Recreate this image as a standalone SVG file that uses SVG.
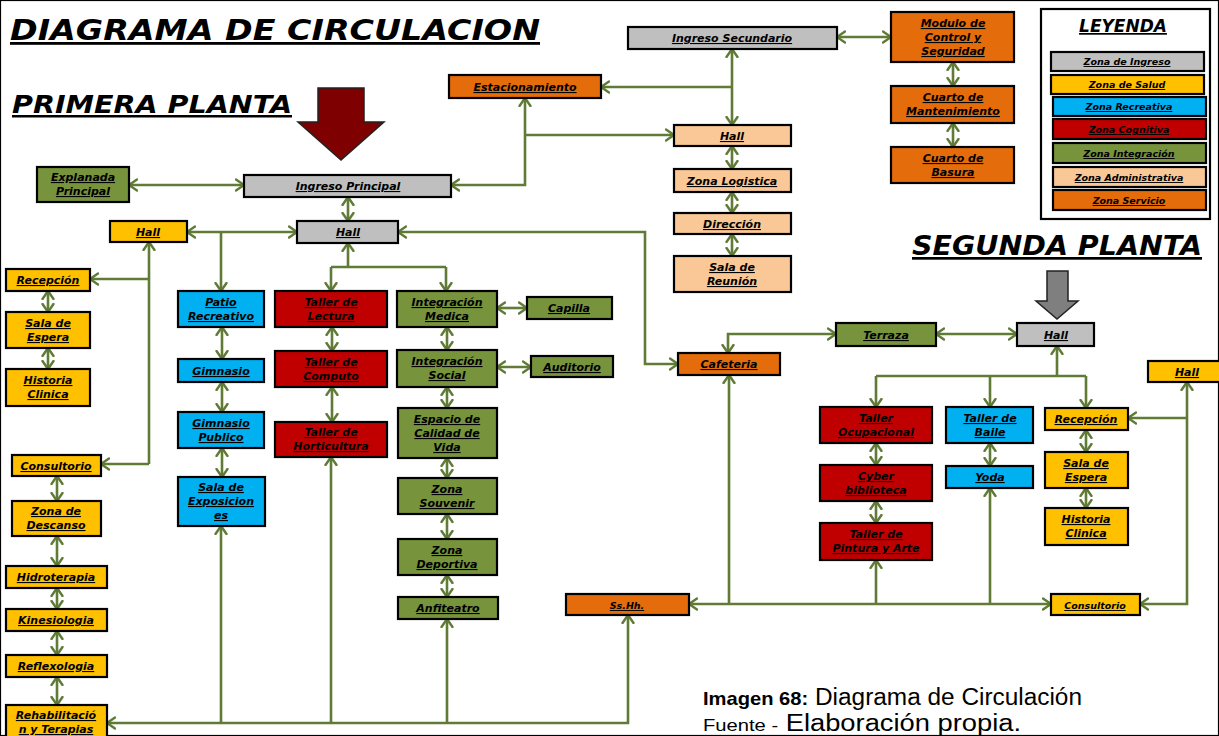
<svg xmlns="http://www.w3.org/2000/svg" width="1219" height="736" viewBox="0 0 1219 736">
<defs>
<marker id="ah" viewBox="0 0 10 14" refX="9" refY="7" markerWidth="10" markerHeight="14" markerUnits="userSpaceOnUse" orient="auto-start-reverse">
<path d="M1,1.5 L9,7 L1,12.5" fill="none" stroke="#5F7B36" stroke-width="2.4" stroke-linecap="round" stroke-linejoin="round"/>
</marker>
</defs>
<style>
.t{font-family:"DejaVu Sans","Liberation Sans",sans-serif;font-weight:bold;font-style:italic;font-size:11px;text-anchor:middle;text-decoration:underline;fill:#000}
.s{font-size:9.5px}
.h{font-family:"DejaVu Sans","Liberation Sans",sans-serif;font-weight:bold;font-style:italic;text-decoration:underline;fill:#000}
.cap{font-family:"Liberation Sans",Arial,sans-serif;fill:#000}
rect{stroke:#000;stroke-width:2.2}
.gy{fill:#BFBFBF}.ye{fill:#FFC000}.bl{fill:#00B0F0}.rd{fill:#C00000}.gr{fill:#77933C}.pe{fill:#FAC896}.or{fill:#E46C0A}
.c{fill:none;stroke:#5F7B36;stroke-width:2.6}
.e{marker-end:url(#ah)}.b{marker-start:url(#ah);marker-end:url(#ah)}
</style>
<rect width="1219" height="736" fill="#fff" stroke="none"/>

<text class="h" x="10" y="40" font-size="28" textLength="530" lengthAdjust="spacingAndGlyphs">DIAGRAMA DE CIRCULACION</text>
<text class="h" x="12" y="113" font-size="25" textLength="280" lengthAdjust="spacingAndGlyphs">PRIMERA PLANTA</text>
<text class="h" x="912" y="255" font-size="27" textLength="290" lengthAdjust="spacingAndGlyphs">SEGUNDA PLANTA</text>
<polygon points="318,88 364,88 364,122 384,122 341,160 298,122 318,122" fill="#7F0000" stroke="#222" stroke-width="1.5"/>
<polygon points="1047,271 1068,271 1068,301 1078,301 1057,319 1036,301 1047,301" fill="#7F7F7F" stroke="#222" stroke-width="1.5"/>

<g id="connectors">
<path class="c b" d="M129,185 H244"/>
<path class="c b" d="M348,197 V221"/>
<path class="c b" d="M187,232 H297"/>
<path class="c e" d="M221,232 V291"/>
<path class="c e" d="M149,464 V242"/>
<path class="c e" d="M149,464 H101"/>
<path class="c e" d="M149,279 H90"/>
<path class="c b" d="M48,291 V312"/>
<path class="c b" d="M48,348 V369"/>
<path class="c b" d="M57,476 V501"/>
<path class="c b" d="M57,536 V566"/>
<path class="c b" d="M57,588 V609"/>
<path class="c b" d="M57,631 V655"/>
<path class="c b" d="M57,677 V705"/>
<path class="c e" d="M348,267 V243"/>
<path class="c" d="M331,267 H446"/>
<path class="c e" d="M331,267 V291"/>
<path class="c e" d="M446,267 V291"/>
<path class="c b" d="M222,327 V359"/>
<path class="c b" d="M222,382 V412"/>
<path class="c b" d="M222,448 V477"/>
<path class="c b" d="M332,327 V351"/>
<path class="c b" d="M332,387 V422"/>
<path class="c b" d="M447,327 V350"/>
<path class="c b" d="M447,387 V408"/>
<path class="c b" d="M447,458 V478"/>
<path class="c b" d="M447,514 V539"/>
<path class="c b" d="M447,575 V597"/>
<path class="c b" d="M497,308 H527"/>
<path class="c b" d="M497,367 H531"/>
<path class="c b" d="M107,723 H628 V615"/>
<path class="c e" d="M221,723 V526"/>
<path class="c e" d="M331,723 V457"/>
<path class="c e" d="M447,723 V619"/>
<path class="c b" d="M398,232 H645 V364 H678"/>
<path class="c b" d="M451,185 H525 V98"/>
<path class="c e" d="M525,135 H674"/>
<path class="c b" d="M732,49 V125"/>
<path class="c e" d="M732,87 H601"/>
<path class="c b" d="M837,37 H891"/>
<path class="c b" d="M953,62 V86"/>
<path class="c b" d="M953,123 V147"/>
<path class="c b" d="M732,146 V169"/>
<path class="c b" d="M732,192 V213"/>
<path class="c b" d="M732,234 V256"/>
<path class="c b" d="M728,353 V334 H836"/>
<path class="c b" d="M936,334 H1017"/>
<path class="c e" d="M1057,376 V346"/>
<path class="c" d="M876,376 H1086"/>
<path class="c e" d="M876,376 V407"/>
<path class="c e" d="M990,376 V407"/>
<path class="c e" d="M1086,376 V408"/>
<path class="c b" d="M876,443 V465"/>
<path class="c b" d="M876,501 V523"/>
<path class="c b" d="M990,443 V466"/>
<path class="c b" d="M1086,430 V452"/>
<path class="c b" d="M1086,488 V508"/>
<path class="c b" d="M689,604 H1051"/>
<path class="c e" d="M729,604 V375"/>
<path class="c e" d="M876,604 V560"/>
<path class="c e" d="M990,604 V488"/>
<path class="c b" d="M1187,382 V604 H1140"/>
<path class="c e" d="M1187,418 H1128"/>
</g>

<g id="ingreso-secundario"><rect class="gy" x="628" y="27" width="209" height="22"/><text class="t" x="732" y="42">Ingreso Secundario</text></g>
<g id="estacionamiento"><rect class="or" x="449" y="75" width="152" height="23"/><text class="t" x="525" y="91">Estacionamiento</text></g>
<g id="modulo-control"><rect class="or" x="891" y="12" width="123" height="50"/><text class="t" x="953" y="27">Modulo de</text><text class="t" x="953" y="41">Control y</text><text class="t" x="953" y="55">Seguridad</text></g>
<g id="cuarto-mantenimiento"><rect class="or" x="891" y="86" width="123" height="37"/><text class="t" x="953" y="101">Cuarto de</text><text class="t" x="953" y="115">Mantenimiento</text></g>
<g id="cuarto-basura"><rect class="or" x="891" y="147" width="123" height="36"/><text class="t" x="953" y="162">Cuarto de</text><text class="t" x="953" y="176">Basura</text></g>
<g id="hall-admin"><rect class="pe" x="674" y="125" width="117" height="21"/><text class="t" x="732" y="140">Hall</text></g>
<g id="zona-logistica"><rect class="pe" x="674" y="169" width="117" height="23"/><text class="t" x="732" y="185">Zona Logistica</text></g>
<g id="direccion"><rect class="pe" x="674" y="213" width="117" height="21"/><text class="t" x="732" y="228">Dirección</text></g>
<g id="sala-reunion"><rect class="pe" x="674" y="256" width="117" height="36"/><text class="t" x="732" y="271">Sala de</text><text class="t" x="732" y="285">Reunión</text></g>

<g id="explanada"><rect class="gr" x="37" y="167" width="92" height="35"/><text class="t" x="83" y="181">Explanada</text><text class="t" x="83" y="195">Principal</text></g>
<g id="ingreso-principal"><rect class="gy" x="244" y="175" width="207" height="22"/><text class="t" x="348" y="190">Ingreso Principal</text></g>
<g id="hall-principal"><rect class="gy" x="297" y="221" width="101" height="22"/><text class="t" x="348" y="236">Hall</text></g>
<g id="hall-salud"><rect class="ye" x="110" y="221" width="77" height="21"/><text class="t" x="148" y="236">Hall</text></g>
<g id="recepcion"><rect class="ye" x="6" y="269" width="84" height="22"/><text class="t" x="48" y="284">Recepción</text></g>
<g id="sala-espera"><rect class="ye" x="6" y="312" width="84" height="36"/><text class="t" x="48" y="327">Sala de</text><text class="t" x="48" y="341">Espera</text></g>
<g id="historia-clinica"><rect class="ye" x="6" y="369" width="84" height="37"/><text class="t" x="48" y="384">Historia</text><text class="t" x="48" y="398">Clinica</text></g>
<g id="consultorio"><rect class="ye" x="12" y="455" width="89" height="21"/><text class="t" x="56" y="470">Consultorio</text></g>
<g id="zona-descanso"><rect class="ye" x="12" y="501" width="89" height="35"/><text class="t" x="56" y="515">Zona de</text><text class="t" x="56" y="529">Descanso</text></g>
<g id="hidroterapia"><rect class="ye" x="6" y="566" width="101" height="22"/><text class="t" x="56" y="581">Hidroterapia</text></g>
<g id="kinesiologia"><rect class="ye" x="6" y="609" width="101" height="22"/><text class="t" x="56" y="624">Kinesiologia</text></g>
<g id="reflexologia"><rect class="ye" x="6" y="655" width="101" height="22"/><text class="t" x="56" y="670">Reflexologia</text></g>
<g id="rehabilitacion"><rect class="ye" x="6" y="705" width="101" height="38"/><text class="t" x="56" y="719">Rehabilitació</text><text class="t" x="56" y="733">n y Terapias</text></g>
<g id="patio-recreativo"><rect class="bl" x="178" y="291" width="86" height="36"/><text class="t" x="221" y="306">Patio</text><text class="t" x="221" y="320">Recreativo</text></g>
<g id="gimnasio"><rect class="bl" x="178" y="359" width="86" height="23"/><text class="t" x="221" y="375">Gimnasio</text></g>
<g id="gimnasio-publico"><rect class="bl" x="178" y="412" width="86" height="36"/><text class="t" x="221" y="427">Gimnasio</text><text class="t" x="221" y="441">Publico</text></g>
<g id="sala-exposiciones"><rect class="bl" x="178" y="477" width="87" height="49"/><text class="t" x="221" y="491">Sala de</text><text class="t" x="221" y="505">Exposicion</text><text class="t" x="221" y="519">es</text></g>
<g id="taller-lectura"><rect class="rd" x="275" y="291" width="112" height="36"/><text class="t" x="331" y="306">Taller de</text><text class="t" x="331" y="320">Lectura</text></g>
<g id="taller-computo"><rect class="rd" x="275" y="351" width="112" height="36"/><text class="t" x="331" y="366">Taller de</text><text class="t" x="331" y="380">Computo</text></g>
<g id="taller-horticultura"><rect class="rd" x="275" y="422" width="112" height="35"/><text class="t" x="331" y="436">Taller de</text><text class="t" x="331" y="450">Horticultura</text></g>
<g id="integracion-medica"><rect class="gr" x="397" y="291" width="100" height="36"/><text class="t" x="447" y="306">Integración</text><text class="t" x="447" y="320">Medica</text></g>
<g id="integracion-social"><rect class="gr" x="397" y="350" width="100" height="37"/><text class="t" x="447" y="365">Integración</text><text class="t" x="447" y="379">Social</text></g>
<g id="espacio-calidad"><rect class="gr" x="398" y="408" width="99" height="50"/><text class="t" x="447" y="423">Espacio de</text><text class="t" x="447" y="437">Calidad de</text><text class="t" x="447" y="451">Vida</text></g>
<g id="zona-souvenir"><rect class="gr" x="398" y="478" width="99" height="36"/><text class="t" x="447" y="493">Zona</text><text class="t" x="447" y="507">Souvenir</text></g>
<g id="zona-deportiva"><rect class="gr" x="398" y="539" width="99" height="36"/><text class="t" x="447" y="554">Zona</text><text class="t" x="447" y="568">Deportiva</text></g>
<g id="anfiteatro"><rect class="gr" x="398" y="597" width="100" height="22"/><text class="t" x="448" y="612">Anfiteatro</text></g>
<g id="capilla"><rect class="gr" x="527" y="297" width="85" height="22"/><text class="t" x="569" y="312">Capilla</text></g>
<g id="auditorio"><rect class="gr" x="531" y="356" width="82" height="21"/><text class="t" x="572" y="371">Auditorio</text></g>
<g id="ss-hh"><rect class="or" x="566" y="594" width="123" height="21"/><text class="t s" x="627" y="609">Ss.Hh.</text></g>
<g id="cafeteria"><rect class="or" x="678" y="353" width="102" height="22"/><text class="t" x="729" y="368">Cafeteria</text></g>

<g id="terraza"><rect class="gr" x="836" y="323" width="100" height="23"/><text class="t" x="886" y="339">Terraza</text></g>
<g id="hall-2"><rect class="gy" x="1017" y="323" width="77" height="23"/><text class="t" x="1056" y="339">Hall</text></g>
<g id="hall-salud-2"><rect class="ye" x="1148" y="361" width="80" height="21"/><text class="t" x="1187" y="376">Hall</text></g>
<g id="taller-ocupacional"><rect class="rd" x="820" y="407" width="112" height="36"/><text class="t" x="876" y="422">Taller</text><text class="t" x="876" y="436">Ocupacional</text></g>
<g id="cyber-biblioteca"><rect class="rd" x="820" y="465" width="112" height="36"/><text class="t" x="876" y="480">Cyber</text><text class="t" x="876" y="494">biblioteca</text></g>
<g id="taller-pintura"><rect class="rd" x="820" y="523" width="112" height="37"/><text class="t" x="876" y="538">Taller de</text><text class="t" x="876" y="552">Pintura y Arte</text></g>
<g id="taller-baile"><rect class="bl" x="946" y="407" width="87" height="36"/><text class="t" x="990" y="422">Taller de</text><text class="t" x="990" y="436">Baile</text></g>
<g id="yoda"><rect class="bl" x="946" y="466" width="87" height="22"/><text class="t" x="990" y="481">Yoda</text></g>
<g id="recepcion-2"><rect class="ye" x="1045" y="408" width="83" height="22"/><text class="t" x="1086" y="423">Recepción</text></g>
<g id="sala-espera-2"><rect class="ye" x="1045" y="452" width="83" height="36"/><text class="t" x="1086" y="467">Sala de</text><text class="t" x="1086" y="481">Espera</text></g>
<g id="historia-clinica-2"><rect class="ye" x="1045" y="508" width="83" height="37"/><text class="t" x="1086" y="523">Historia</text><text class="t" x="1086" y="537">Clinica</text></g>
<g id="consultorio-2"><rect class="ye" x="1051" y="594" width="89" height="21"/><text class="t s" x="1095" y="609">Consultorio</text></g>

<g id="leyenda">
<rect x="1041" y="9" width="169" height="210" fill="#fff" stroke-width="2"/>
<text class="h" x="1123" y="32" font-size="17" text-anchor="middle">LEYENDA</text>
<rect class="gy" x="1051" y="52" width="153" height="19"/><text class="t s" x="1127" y="65">Zona de Ingreso</text>
<rect class="ye" x="1051" y="75" width="153" height="19"/><text class="t s" x="1127" y="88">Zona de Salud</text>
<rect class="bl" x="1053" y="97" width="153" height="19"/><text class="t s" x="1129" y="110">Zona Recreativa</text>
<rect class="rd" x="1053" y="119" width="153" height="20"/><text class="t s" x="1129" y="133">Zona Cognitiva</text>
<rect class="gr" x="1053" y="143" width="153" height="20"/><text class="t s" x="1129" y="157">Zona Integración</text>
<rect class="pe" x="1053" y="167" width="153" height="20"/><text class="t s" x="1129" y="181">Zona Administrativa</text>
<rect class="or" x="1053" y="190" width="153" height="20"/><text class="t s" x="1129" y="204">Zona Servicio</text>
</g>

<text class="cap" x="703" y="705" font-size="23" textLength="379" lengthAdjust="spacingAndGlyphs"><tspan font-weight="bold" font-size="19">Imagen 68:</tspan> Diagrama de Circulación</text>
<text class="cap" x="703" y="731" font-size="23" textLength="318" lengthAdjust="spacingAndGlyphs"><tspan font-size="17">Fuente -</tspan> Elaboración propia.</text>
</svg>
